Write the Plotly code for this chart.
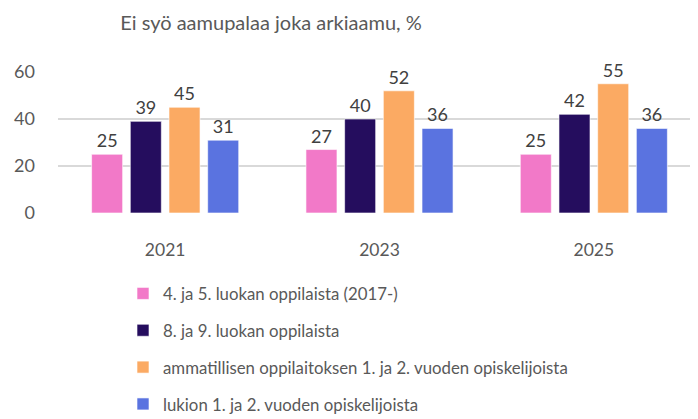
import plotly.graph_objects as go

years = ["2021", "2023", "2025"]
series_names = [
    "4. ja 5. luokan oppilaista (2017-)",
    "8. ja 9. luokan oppilaista",
    "ammatillisen oppilaitoksen 1. ja 2. vuoden opiskelijoista",
    "lukion 1. ja 2. vuoden opiskelijoista",
]
values_45 = [25, 27, 25]
values_89 = [39, 40, 42]
values_amm = [45, 52, 55]
values_lukio = [31, 36, 36]
colors = ["#F279C8", "#250D5E", "#FBAA63", "#5A73E0"]
y_ticks = [0, 20, 40, 60]

FONT = "Lato"
all_values = [values_45, values_89, values_amm, values_lukio]

fig = go.Figure()
for i, (name, vals, col) in enumerate(zip(series_names, all_values, colors)):
    fig.add_trace(go.Bar(
        x=years, y=vals, name=name,
        marker=dict(color=col, line=dict(color="rgba(255,255,255,0.6)", width=1)),
        text=[str(v) for v in vals], textposition="outside",
        textfont=dict(family=FONT, size=18, color="#404040"),
        cliponaxis=False,
        legendgroup=f"g{i}",
    ))

W, H = 698, 419
OFF = 8  # page body margin offset
L, R, T, B = 58 - OFF, 5, 72 - OFF, H - (213 - OFF)

fig.update_layout(
    width=W, height=H,
    margin=dict(l=L, r=R, t=T, b=B, autoexpand=False),
    paper_bgcolor="white", plot_bgcolor="white",
    barmode="group", bargap=0.278, bargroupgap=0.198,
    font=dict(family=FONT, color="#595959"),
    title=dict(text="Ei syö aamupalaa joka arkiaamu, %",
               font=dict(family=FONT, size=20, color="#595959"),
               x=(271 - OFF) / W, xanchor="center",
               y=1 - (23 - OFF) / H, yanchor="middle",
               xref="container", yref="container", automargin=False),
    xaxis=dict(showgrid=False, showline=False, ticks="", automargin=False,
               ticklabelstandoff=24,
               tickfont=dict(family=FONT, size=17.5, color="#595959")),
    yaxis=dict(range=[0, 60], tickvals=y_ticks, showgrid=True, automargin=False,
               gridcolor="#D9D9D9", gridwidth=2, zeroline=False,
               ticks="", ticklabelstandoff=22,
               tickfont=dict(family=FONT, size=18, color="#595959")),
    showlegend=True,
    legend=dict(orientation="v", traceorder="grouped", tracegroupgap=12,
                xref="container", yref="container",
                x=115 / W, xanchor="left",
                y=1 - 268 / H, yanchor="top",
                font=dict(family=FONT, size=16.8, color="#595959"),
                bgcolor="rgba(0,0,0,0)"),
)

fig.write_html("out.html")
